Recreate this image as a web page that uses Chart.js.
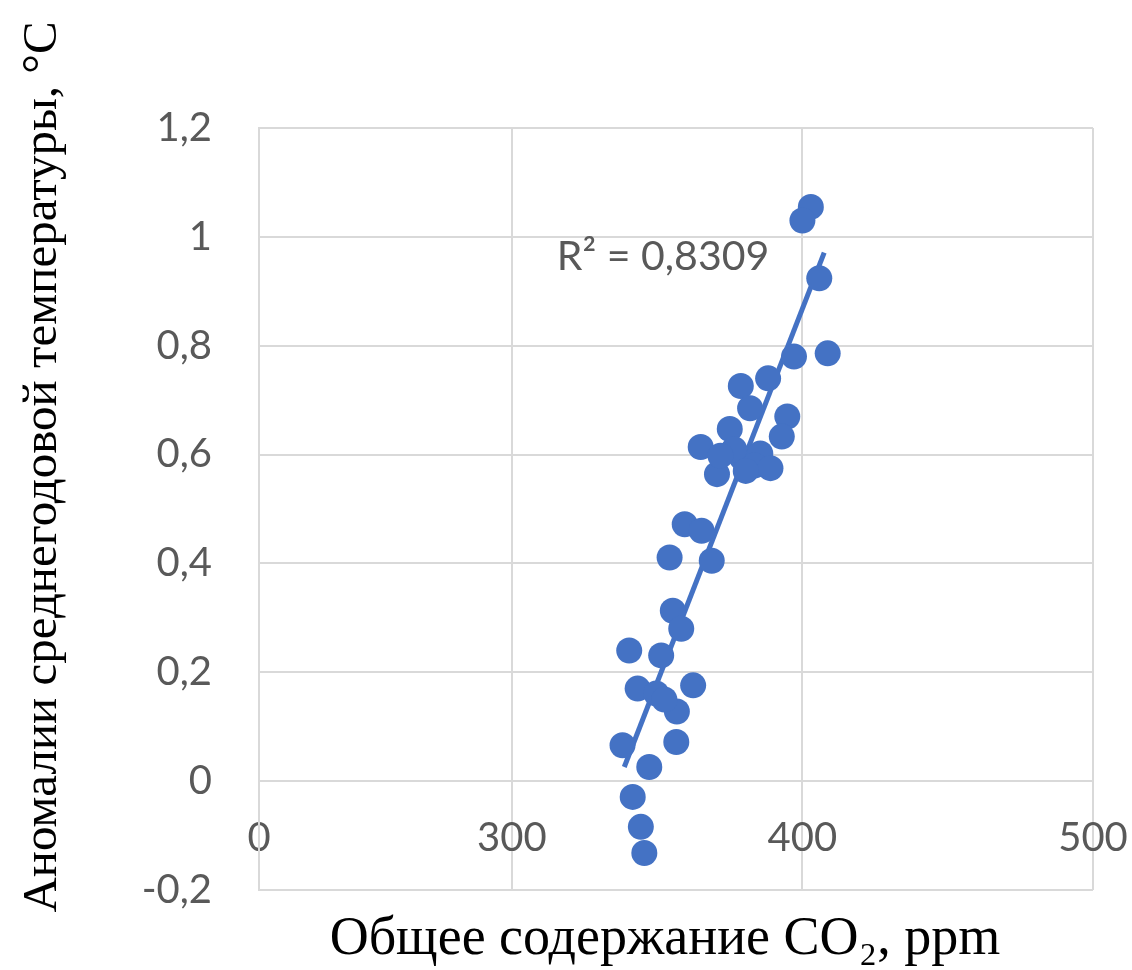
<!DOCTYPE html>
<html lang="ru">

<head>
  <meta charset="UTF-8">
  <title>CO2 vs anomaly</title>
  <script src="https://cdn.jsdelivr.net/npm/chart.js@4/dist/chart.umd.min.js"></script>
  <style>
    body { margin: 0; background: #fff; }
  </style>
</head>

<body>
  <canvas id="chart" width="1132" height="970"></canvas>
  <script>
    // points: CO2 (ppm) and temperature anomaly (°C)
    const co2 = [402.9, 400.0, 405.8, 397.1, 408.7, 378.8, 388.2, 382.0, 394.8, 392.9,
      375.0, 365.0, 370.6, 379.2, 385.5, 383.5, 389.0, 359.5, 365.3, 354.3,
      368.8, 355.4, 358.3, 340.4, 351.4, 343.3, 349.7, 362.4, 356.8, 338.1,
      356.6, 347.3, 341.6, 344.4, 345.6, 376.5, 352.5, 380.5, 371.8];
    const anomaly = [1.055, 1.030, 0.924, 0.780, 0.786, 0.726, 0.740, 0.685, 0.670, 0.633,
      0.647, 0.614, 0.564, 0.594, 0.602, 0.580, 0.575, 0.472, 0.460, 0.411,
      0.405, 0.313, 0.280, 0.240, 0.231, 0.170, 0.161, 0.176, 0.128, 0.066,
      0.072, 0.026, -0.029, -0.084, -0.132, 0.610, 0.150, 0.570, 0.598];

    // linear trend line ends, as drawn in the picture
    const trendX = [338.7, 407.5];
    const trendY = [0.026, 0.971];
    const r2Text = 'R² = 0,8309';
    const r2Pos = [315.5, 0.963];

    // the original x axis is broken: its left edge is labelled 0
    const xTickValues = [213, 300, 400, 500];
    const xTickLabels = ['0', '300', '400', '500'];
    const yTickValues = [-0.2, 0, 0.2, 0.4, 0.6, 0.8, 1, 1.2];
    const yTickLabels = ['-0,2', '0', '0,2', '0,4', '0,6', '0,8', '1', '1,2'];

    const xTitle = 'Общее содержание CO₂, ppm';
    const yTitle = 'Аномалии среднегодовой температуры, °C';

    const blue = '#4472C4';
    const grey = '#595959';

    Chart.defaults.font.family = 'Lato';

    const titles = {
      id: 'titles',
      afterDraw(chart) {
        const { ctx, scales } = chart;
        ctx.save();
        ctx.fillStyle = grey;
        ctx.font = '41px Lato';
        ctx.textBaseline = 'middle';
        ctx.textAlign = 'left';
        ctx.fillText(r2Text, scales.x.getPixelForValue(r2Pos[0]), scales.y.getPixelForValue(r2Pos[1]));

        ctx.fillStyle = '#000';
        ctx.textAlign = 'center';
        ctx.font = '54px "Liberation Serif"';
        ctx.fillText(xTitle, 665, 940);
        ctx.font = '49px "Liberation Serif"';
        ctx.translate(43, 467);
        ctx.rotate(-Math.PI / 2);
        ctx.fillText(yTitle, 0, 0);
        ctx.restore();
      }
    };

    const points = co2.map((x, i) => ({ x: x, y: anomaly[i] }));
    const trend = trendX.map((x, i) => ({ x: x, y: trendY[i] }));

    new Chart(document.getElementById('chart').getContext('2d'), {
      type: 'scatter',
      data: {
        datasets: [{
          data: points,
          backgroundColor: blue,
          borderWidth: 0,
          pointRadius: 13
        }, {
          type: 'line',
          data: trend,
          borderColor: blue,
          borderWidth: 5,
          pointRadius: 0,
          fill: false
        }]
      },
      options: {
        responsive: false,
        animation: false,
        layout: { padding: { left: 0, top: 128, right: 39, bottom: 80 } },
        plugins: { legend: { display: false }, tooltip: { enabled: false } },
        scales: {
          x: {
            type: 'linear',
            position: { y: 0 },
            min: xTickValues[0],
            max: xTickValues[xTickValues.length - 1],
            afterBuildTicks: s => { s.ticks = xTickValues.map(v => ({ value: v })); },
            afterFit: s => { s.paddingLeft = 0; s.paddingRight = 0; },
            grid: { color: '#d9d9d9', lineWidth: 2, drawTicks: false },
            border: { color: '#d9d9d9', width: 2 },
            ticks: {
              padding: 33,
              color: grey,
              font: { size: 40 },
              maxRotation: 0,
              callback: v => xTickLabels[xTickValues.indexOf(v)]
            }
          },
          y: {
            min: -0.2,
            max: 1.2,
            afterBuildTicks: s => { s.ticks = yTickValues.map(v => ({ value: v })); },
            afterFit: s => { s.width = 259; },
            grid: { color: '#d9d9d9', lineWidth: 2, drawTicks: false },
            border: { color: '#d9d9d9', width: 2 },
            ticks: {
              padding: 47,
              color: grey,
              font: { size: 40 },
              callback: (v, i) => yTickLabels[i]
            }
          }
        }
      },
      plugins: [titles]
    });
  </script>
</body>

</html>
